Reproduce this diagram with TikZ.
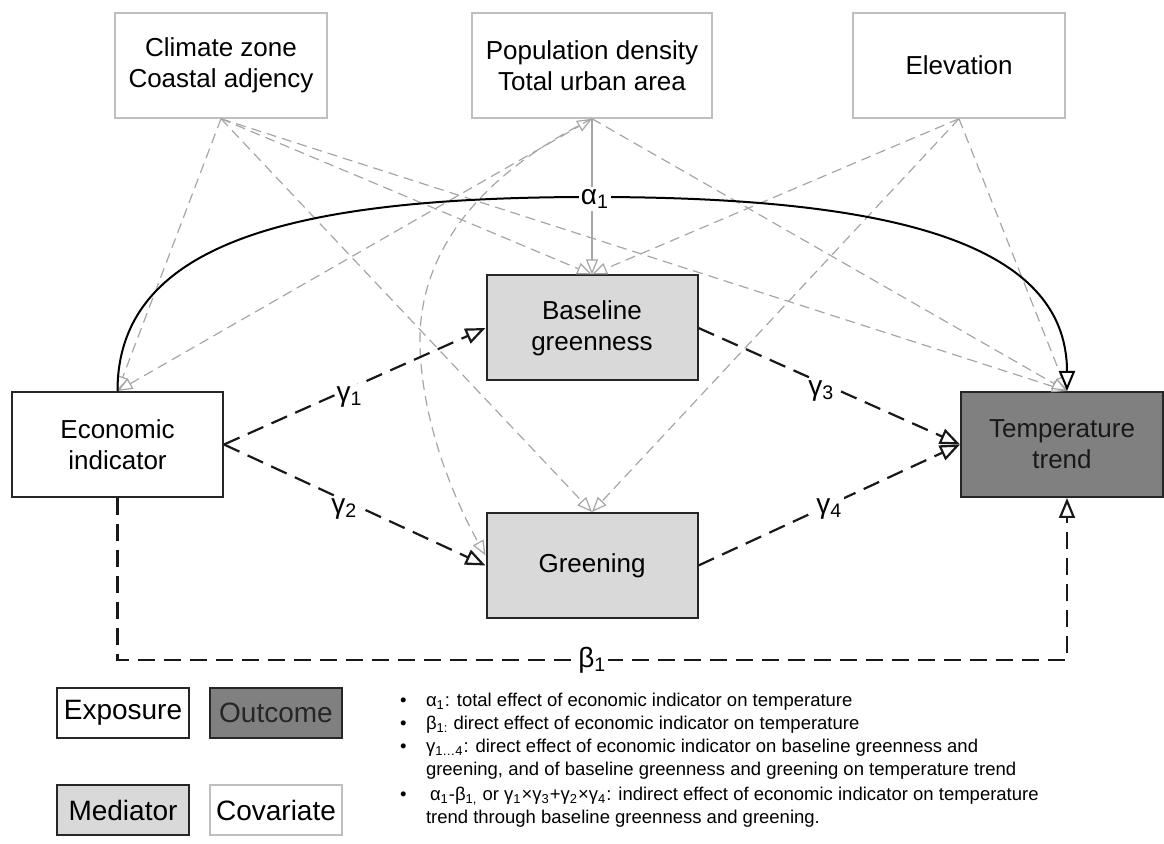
\documentclass[tikz,border=0pt]{standalone}
\usepackage{fontspec}
\setmainfont{Liberation Sans}
\usetikzlibrary{arrows.meta}

\begin{document}
\begin{tikzpicture}[x=0.5pt, y=-0.5pt, line width=1pt,
  font=\fontsize{13}{15.5}\selectfont,
  box/.style={draw=black!85, line width=1pt, minimum width=105.5pt, minimum height=52.5pt, align=center, inner sep=0pt},
  covbox/.style={box, draw=black!25, line width=0.75pt, minimum width=106pt},
  mediator/.style={box, fill=black!15},
  outcome/.style={box, fill=black!50, text=black!90},
  legbox/.style={box, minimum width=66pt, minimum height=25pt, font=\fontsize{14}{16}\selectfont},
  effect/.style={draw=black!90, line width=1.1pt, dash pattern=on 8.5pt off 4.5pt, -{Triangle[fill=white, length=10pt, width=8pt]}},
  cov/.style={draw=black!35, line width=0.6pt, dash pattern=on 5pt off 3pt, -{Triangle[fill=white, length=7.5pt, width=6pt]}},
  covboth/.style={cov, {Triangle[fill=white, length=7.5pt, width=6pt]}-{Triangle[fill=white, length=7.5pt, width=6pt]}},
  lbl/.style={fill=white, inner sep=1pt, font=\fontsize{14}{16}\selectfont},
  note/.style={anchor=base west, inner sep=0pt, font=\fontsize{9.25}{11}\selectfont}]

\useasboundingbox (0,0) rectangle (1164,844);

% draw covariate boxes
\node[covbox] (climate) at (221,65.5) {Climate zone\\Coastal adjency};
\node[covbox, minimum width=120pt] (popdens) at (592,65.5) {Population density\\Total urban area};
\node[covbox] (elev) at (959,65.5) {Elevation};

% draw exposure, mediators and outcome
\node[box] (econ) at (117.5,444.5) {Economic\\indicator};
\node[mediator] (base) at (592,328) {Baseline\\greenness};
\node[mediator] (green) at (592,565.5) {Greening};
\node[outcome, minimum width=101pt] (temp) at (1062,444.5) {Temperature\\trend};
\coordinate (ttop) at ([xshift=2.5pt]temp.north);
\coordinate (tbot) at ([xshift=2.5pt]temp.south);

% draw covariate arrows
\draw[cov] (climate.south) -- (econ.north);
\draw[cov] (climate.south) -- (base.north);
\draw[cov] (climate.south) -- (green.north);
\draw[cov] (climate.south) -- (ttop);

\draw[covboth] (econ.north) -- (popdens.south);
\draw[cov, solid] (popdens.south) -- (base.north);
\draw[cov] (popdens.south) -- (ttop);
\draw[cov] (popdens.south) .. controls (470,180) and (418,260) .. (420,345)
                           .. controls (422,430) and (460,510) .. ([yshift=5pt]green.west);

\draw[cov] (elev.south) -- (base.north);
\draw[cov] (elev.south) -- (green.north);
\draw[cov] (elev.south) -- (ttop);

% draw total effect
\draw[black, line width=1pt, -{Triangle[fill=white, length=10pt, width=8pt]}]
  (econ.north) .. controls (117.5,240) and (300,197) .. (592,197)
               .. controls (884,197) and (1067,240) .. (ttop);
\node[lbl] (alpha) at (595,199) {α\textsubscript{1}};

% draw mediated and direct effects
\draw[effect] (econ.east) -- node[lbl, pos=.48, yshift=-4pt] {γ\textsubscript{1}} (base.west);
\draw[effect] (econ.east) -- node[lbl, pos=.46, yshift=-4.5pt] {γ\textsubscript{2}} (green.west);
\draw[effect] (base.east) -- node[lbl, pos=.47, yshift=-4pt] {γ\textsubscript{3}} (temp.west);
\draw[effect] (green.east) -- node[lbl, pos=.5, yshift=-2pt] {γ\textsubscript{4}} (temp.west);

\coordinate (bcorner) at (117.5,660);
\draw[effect] (econ.south) -- (bcorner) -| node[lbl, pos=.25] {β\textsubscript{1}} (tbot);

% draw legend
\node[legbox] (lexp) at (123,713) {Exposure};
\node[legbox, fill=black!50, text=black!85] (lout) at (276,713) {Outcome};
\node[legbox, fill=black!15] (lmed) at (123,810) {Mediator};
\node[legbox, draw=black!25, line width=0.75pt] (lcov) at (276,810) {Covariate};

\node[note] (dot1) at (399,707) {\textbullet};
\node[note] (dot2) at (399,730) {\textbullet};
\node[note] (dot3) at (399,753) {\textbullet};
\node[note] (dot4) at (399,801) {\textbullet};

\node[note] (n1) at (425,707) {α\textsubscript{1}: total effect of economic indicator on temperature};
\node[note] (n2) at (425,730) {β\textsubscript{1:} direct effect of economic indicator on temperature};
\node[note] (n3a) at (425,753) {γ\textsubscript{1…4}: direct effect of economic indicator on baseline greenness and};
\node[note] (n3b) at (425,776) {greening, and of baseline greenness and greening on temperature trend};
\node[note] (n4a) at (429,801) {α\textsubscript{1}-β\textsubscript{1,} or γ\textsubscript{1}×γ\textsubscript{3}+γ\textsubscript{2}×γ\textsubscript{4}: indirect effect of economic indicator on temperature};
\node[note] (n4b) at (425,824) {trend through baseline greenness and greening.};

\end{tikzpicture}
\end{document}
